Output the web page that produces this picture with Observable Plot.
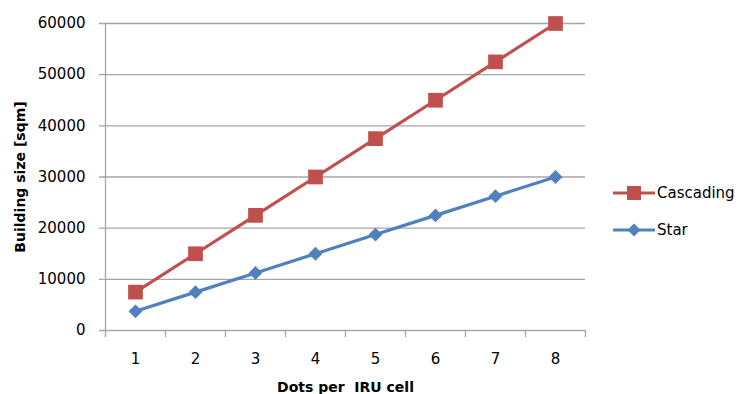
<!DOCTYPE html>
<html>
<head>
<meta charset="utf-8">
<script src="https://cdn.jsdelivr.net/npm/d3@7"></script>
<script src="https://cdn.jsdelivr.net/npm/@observablehq/plot@0.6"></script>
<style>
  body { margin: 0; background: #fff; }
  #wrap { position: relative; width: 740px; height: 394px; font-family: "DejaVu Sans", sans-serif; }
  #wrap svg { font-family: "DejaVu Sans", sans-serif; }
  [aria-label="y-axis label"] text, [aria-label="x-axis label"] text { font-weight: bold; font-size: 14px; white-space: pre; }
  .legend { position: absolute; left: 613px; font-size: 15px; color: #000; display: flex; align-items: center; }
  .legend svg { margin-right: 2px; }
</style>
</head>
<body>
<div id="wrap"></div>
<script>
const categories = [1, 2, 3, 4, 5, 6, 7, 8];
const cascading = [7500, 15000, 22500, 30000, 37500, 45000, 52500, 60000];
const star = [3750, 7500, 11250, 15000, 18750, 22500, 26250, 30000];
const yTicks = [0, 10000, 20000, 30000, 40000, 50000, 60000];
const seriesNames = ["Cascading", "Star"];
const colors = ["#C0504D", "#4F81BD"];

const data = [];
categories.forEach((c, i) => {
  data.push({x: c, y: cascading[i], s: seriesNames[0]});
  data.push({x: c, y: star[i], s: seriesNames[1]});
});
const boundaries = [categories[0] - 0.5, ...categories.map(c => c + 0.5)];

const chart = Plot.plot({
  width: 740,
  height: 394,
  marginLeft: 105,
  marginRight: 155,
  marginTop: 23,
  marginBottom: 64,
  style: {fontSize: "15px", color: "#000"},
  x: {domain: [boundaries[0], boundaries[boundaries.length - 1]]},
  y: {domain: [0, 60000]},
  color: {domain: seriesNames, range: colors},
  marks: [
    Plot.ruleY(yTicks, {x1: boundaries[0] - 0.1, x2: boundaries[boundaries.length - 1], stroke: "#A6A6A6", strokeOpacity: 1, strokeWidth: 1.3}),
    Plot.ruleX([boundaries[0]], {stroke: "#A6A6A6", strokeWidth: 1.3}),
    Plot.axisY({ticks: yTicks, tickSize: 0, tickPadding: 20, tickFormat: d => String(d), label: "Building size [sqm]", labelAnchor: "center", labelArrow: "none", labelOffset: 90}),
    Plot.axisX({ticks: boundaries, tickSize: 7, tickFormat: () => "", stroke: "#A6A6A6", strokeOpacity: 1, strokeWidth: 1.3, label: null}),
    Plot.axisX({ticks: categories, tickSize: 0, tickPadding: 23, tickFormat: d => String(d), label: "Dots per  IRU cell", labelAnchor: "center", labelArrow: "none", labelOffset: 61}),
    Plot.line(data, {x: "x", y: "y", z: "s", stroke: "s", strokeWidth: 3.2}),
    Plot.dot(data.filter(d => d.s === "Cascading"), {x: "x", y: "y", symbol: "square", r: 8.3, fill: colors[0]}),
    Plot.dot(data.filter(d => d.s === "Star"), {x: "x", y: "y", symbol: "diamond2", r: 6.2, fill: colors[1]})
  ]
});
const wrap = document.getElementById("wrap");
wrap.appendChild(chart);

// Legend
const legendItems = [
  {name: seriesNames[0], color: colors[0], shape: "square", top: 183},
  {name: seriesNames[1], color: colors[1], shape: "diamond", top: 220}
];
legendItems.forEach(it => {
  const div = document.createElement("div");
  div.className = "legend";
  div.style.top = it.top + "px";
  const marker = it.shape === "square"
    ? `<rect x="14" y="3" width="14" height="14" fill="${it.color}"/>`
    : `<path d="M21,3.5 L27.5,10 L21,16.5 L14.5,10 Z" fill="${it.color}"/>`;
  div.innerHTML = `<svg width="42" height="20"><line x1="0" x2="42" y1="10" y2="10" stroke="${it.color}" stroke-width="3.2"/>${marker}</svg><span>${it.name}</span>`;
  wrap.appendChild(div);
});
</script>
</body>
</html>
